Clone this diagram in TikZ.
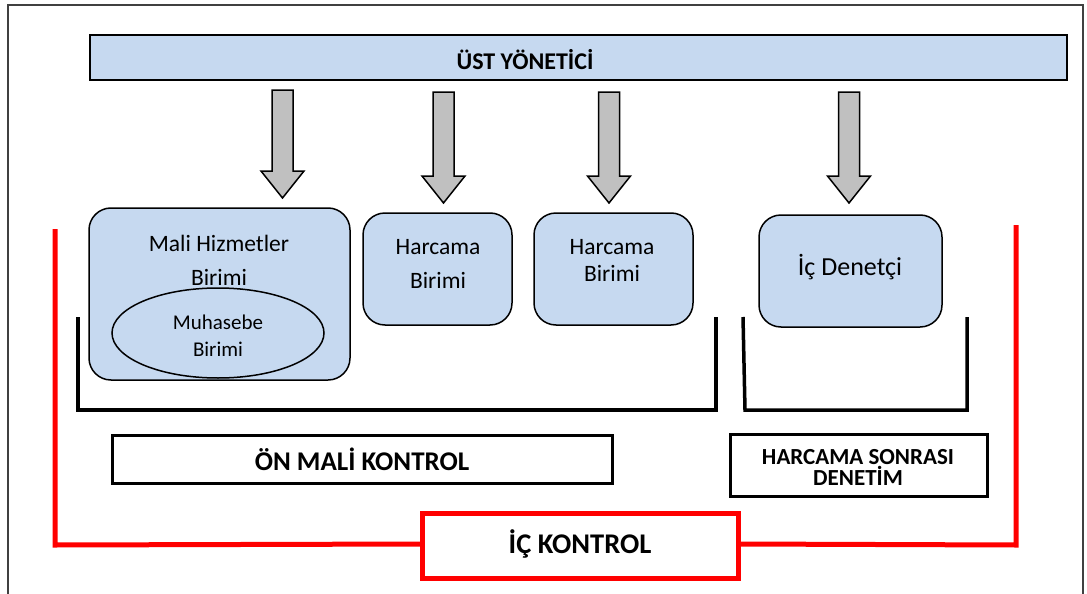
\documentclass[tikz,border=0pt]{standalone}
\usepackage{fontspec}
\setmainfont{Carlito}
\usetikzlibrary{shapes.geometric}
\definecolor{unitblue}{HTML}{C6D9F0}
\definecolor{arrowgray}{HTML}{C0C0C0}
\definecolor{ctrlred}{HTML}{FF0000}
\definecolor{framegray}{HTML}{404040}
\tikzset{
  unitbox/.style={draw=black, line width=1.5pt, fill=unitblue, rounded corners=22pt},
  flowarrow/.style={draw=black, line width=1.5pt, fill=arrowgray, line join=miter},
  groupline/.style={draw=black, line width=3.5pt, line join=miter},
  labelbox/.style={draw=black, line width=3pt},
  redline/.style={draw=ctrlred, line width=5pt, line join=miter},
  bodytext/.style={font=\fontsize{23.5}{34}\selectfont, align=center},
  boldtext/.style={font=\bfseries\fontsize{24}{19}\selectfont, align=center}
}
% down arrow: centre x, top y, tip y
\newcommand{\downflow}[3]{%
  \draw[flowarrow] (#1-10.5,#2) -- (#1+10.5,#2) -- (#1+10.5,#3-27) -- (#1+21.5,#3-27)
    -- (#1,#3) -- (#1-21.5,#3-27) -- (#1-10.5,#3-27) -- cycle;}
\begin{document}
\begin{tikzpicture}[x=1pt,y=-1pt]
\useasboundingbox (0,0) rectangle (1087,594);
% outer frame
\begin{scope}
  \clip (0,0) rectangle (1087,594);
  \draw[framegray, line width=1.5pt] (8,5) rectangle (1083,640);
\end{scope}

% top management bar
\draw[draw=black, line width=1.5pt, fill=unitblue] (90,35) rectangle (1067,80);
\node[boldtext] (ust) at (525,60) {ÜST YÖNETİCİ};

% arrows from the top bar
\downflow{282.5}{90}{198}
\downflow{443.5}{92}{203}
\downflow{609}{92}{203}
\downflow{849}{92}{203}

% units
\draw[unitbox] (89,208) rectangle (350,380);
\node[bodytext] (mali) at (219,260) {Mali Hizmetler\\Birimi};
\node[draw=black, line width=1.5pt, fill=unitblue, ellipse, minimum width=212pt, minimum height=90pt,
      inner sep=0pt] (muh) at (218,333) {};
\node[font=\fontsize{21}{27}\selectfont, align=center] (muhtext) at (218,336) {Muhasebe\\Birimi};

\draw[unitbox] (363,213) rectangle (512,325);
\node[bodytext] (harc1) at (438,264) {Harcama\\Birimi};
\draw[unitbox] (534,213) rectangle (693,325);
\node[bodytext, font=\fontsize{23.5}{27}\selectfont] (harc2) at (612,260) {Harcama\\Birimi};
\draw[unitbox] (759,215) rectangle (942,327);
\node[font=\fontsize{26}{30}\selectfont] (icden) at (850,267) {İç Denetçi};

% grouping brackets
\draw[groupline] (78,317) -- (78,410) -- (716,410) -- (716,317);
\draw[groupline] (743,317) -- (745,410) -- (967,410) -- (967,317);

% group labels
\draw[labelbox] (112,435) rectangle (612,483);
\node[boldtext, font=\bfseries\fontsize{27}{30}\selectfont] (onmali) at (362,459) {ÖN MALİ KONTROL};
\draw[labelbox] (730,434) rectangle (987,496);
\node[boldtext, font=\bfseries\fontsize{23}{21}\selectfont] (hsd) at (858,467) {HARCAMA SONRASI\\DENETİM};

% internal control frame
\draw[redline] (422,513) rectangle (738,578);
\node[boldtext, font=\bfseries\fontsize{28.5}{30}\selectfont] (ick) at (580,544) {İÇ KONTROL};
\coordinate (lt) at (55,229);
\coordinate (lb) at (55,545);
\coordinate (rt) at (1016,225);
\coordinate (rb) at (1016,545);
\draw[redline] (lt) -- (lb) -- (ick.west -| 422,0);
\draw[redline] (ick.east -| 738,0) -- (rb) -- (rt);
\end{tikzpicture}
\end{document}
